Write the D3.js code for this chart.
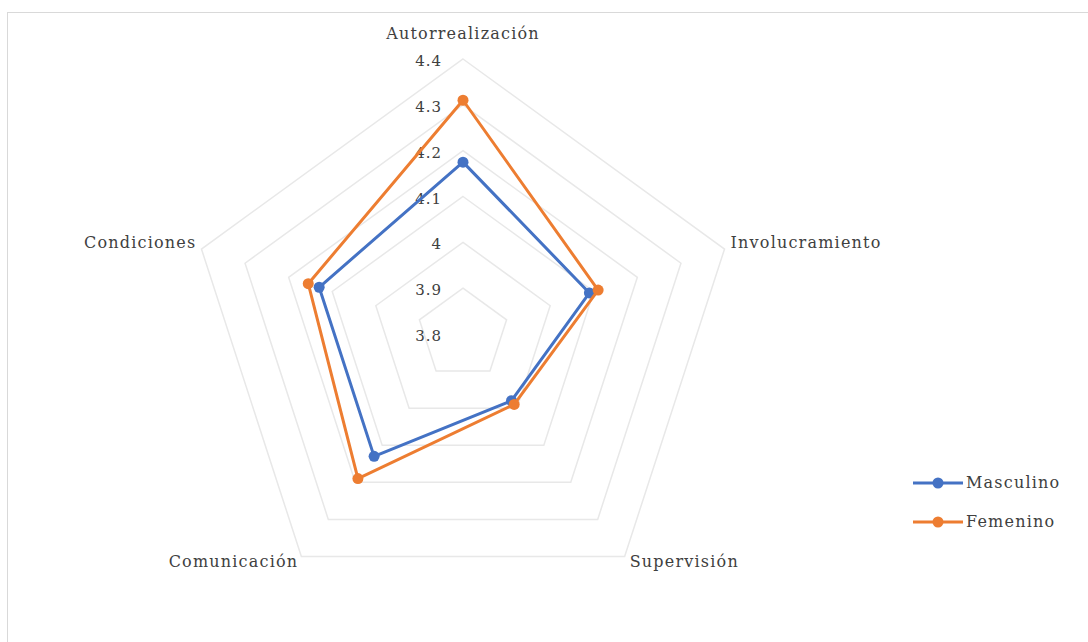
<!DOCTYPE html>
<html>
<head>
<meta charset="utf-8">
<script src="https://cdn.jsdelivr.net/npm/d3@7"></script>
<style>
  body { margin: 0; background: #fff; }
</style>
</head>
<body>
<div id="chart"></div>
<script>
const width = 1088,
  height = 642;

// data
const categories = ["Autorrealización", "Involucramiento", "Supervisión", "Comunicación", "Condiciones"];
const masculino = [4.175, 4.09, 3.98, 4.13, 4.13];
const femenino = [4.31, 4.11, 3.99, 4.19, 4.155];
const ticks = [3.8, 3.9, 4.0, 4.1, 4.2, 4.3, 4.4];
const seriesNames = ["Masculino", "Femenino"];
const colors = ["#4472C4", "#ED7D31"];

const font = "'DejaVu Serif', 'Liberation Serif', serif";
const cx = 463, cy = 334, R = 275;

const svg = d3.select("#chart")
  .append("svg")
  .attr("width", width)
  .attr("height", height)
  .attr("font-family", font);

// chart area border
svg.append("rect")
  .attr("x", 7.5)
  .attr("y", 12.5)
  .attr("width", width + 20)
  .attr("height", height + 20)
  .attr("fill", "#fff")
  .attr("stroke", "#d9d9d9")
  .attr("stroke-width", 1);

const r = d3.scaleLinear().domain([3.8, 4.4]).range([0, R]);
const angle = d3.scaleLinear().domain([0, categories.length]).range([0, 2 * Math.PI]);

const point = (v, i) => [
  cx + r(v) * Math.sin(angle(i)),
  cy - r(v) * Math.cos(angle(i))
];

const g = svg.append("g");

// grid pentagons
g.selectAll("polygon.grid")
  .data(ticks.slice(1))
  .join("polygon")
  .attr("class", "grid")
  .attr("points", t => categories.map((c, i) => point(t, i).join(",")).join(" "))
  .attr("fill", "none")
  .attr("stroke", "#e8e8e8")
  .attr("stroke-width", 1.5);

// tick labels
g.selectAll("text.tick")
  .data(ticks)
  .join("text")
  .attr("class", "tick")
  .attr("x", cx - 21)
  .attr("y", t => cy - r(t) + 3)
  .attr("text-anchor", "end")
  .attr("dominant-baseline", "middle")
  .attr("font-size", 15)
  .attr("letter-spacing", 1)
  .attr("fill", "#404040")
  .text(t => t === 4 ? "4" : t.toFixed(1));

// series
const line = d3.line().curve(d3.curveLinearClosed);
[masculino, femenino].forEach((vals, s) => {
  const pts = vals.map((v, i) => point(v, i));
  g.append("path")
    .attr("d", line(pts))
    .attr("fill", "none")
    .attr("stroke", colors[s])
    .attr("stroke-width", 3)
    .attr("stroke-linejoin", "round");
  g.selectAll(null)
    .data(pts)
    .join("circle")
    .attr("cx", d => d[0])
    .attr("cy", d => d[1])
    .attr("r", 5.5)
    .attr("fill", colors[s]);
});

// category labels
const labelPos = [
  { dx: 0, dy: -25, anchor: "middle" },
  { dx: 6, dy: -6, anchor: "start" },
  { dx: 5, dy: 6, anchor: "start" },
  { dx: -3, dy: 6, anchor: "end" },
  { dx: -5, dy: -6, anchor: "end" }
];
g.selectAll("text.cat")
  .data(categories)
  .join("text")
  .attr("class", "cat")
  .attr("x", (c, i) => point(4.4, i)[0] + labelPos[i].dx)
  .attr("y", (c, i) => point(4.4, i)[1] + labelPos[i].dy)
  .attr("text-anchor", (c, i) => labelPos[i].anchor)
  .attr("dominant-baseline", "middle")
  .attr("font-size", 16)
  .attr("letter-spacing", 1.2)
  .attr("fill", "#404040")
  .text(c => c);

// legend
const legend = svg.append("g").attr("transform", "translate(913,483)");
seriesNames.forEach((name, s) => {
  const lg = legend.append("g").attr("transform", `translate(0,${s * 39})`);
  lg.append("line")
    .attr("x1", 0).attr("x2", 50)
    .attr("stroke", colors[s]).attr("stroke-width", 3);
  lg.append("circle").attr("cx", 25).attr("r", 5.5).attr("fill", colors[s]);
  lg.append("text")
    .attr("x", 53)
    .attr("dominant-baseline", "middle")
    .attr("font-size", 16)
    .attr("letter-spacing", 1.2)
    .attr("fill", "#404040")
    .text(name);
});
</script>
</body>
</html>
